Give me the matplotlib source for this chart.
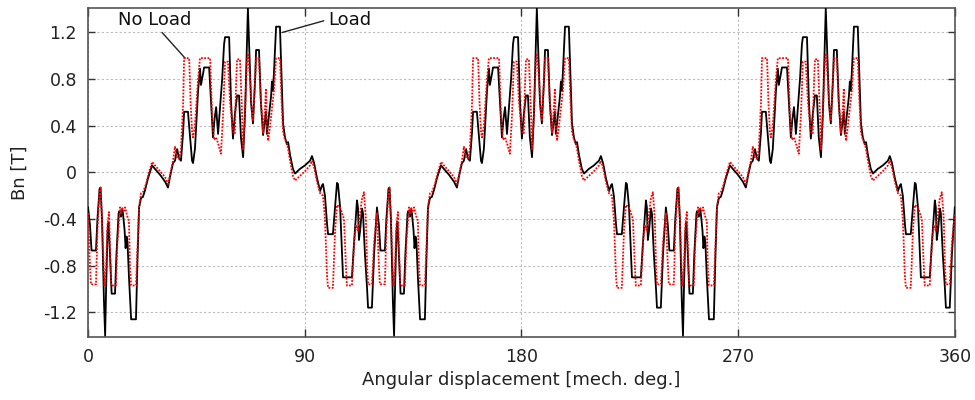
import matplotlib
matplotlib.use("Agg")
import matplotlib.pyplot as plt
import numpy as np

# one 120 deg period (the waveform repeats 3 times over 360 deg)
period = 120
n_periods = 3

# Load (black solid)
ang_load = [0.0, 0.8, 1.45, 3.3, 3.9, 4.8, 5.2, 5.8, 6.6, 7.1, 7.5, 8.1, 8.5, 9.1, 9.8,
            11.2, 11.8, 12.7, 13.1, 13.7, 14.1, 14.5, 15.2, 15.6, 16.0, 16.4, 17.0, 17.9,
            19.9, 20.6, 21.2, 22.0, 22.8, 23.7, 24.9, 26.6, 27.8, 29.9, 32.0, 33.2, 34.1,
            35.3, 36.1, 37.0, 37.8, 38.6, 39.5, 39.9, 41.5, 42.4, 43.2, 43.6, 44.4, 45.7,
            46.5, 46.9, 47.8, 48.2, 50.3, 51.1, 51.9, 52.5, 53.2, 54.0, 55.7, 56.5, 56.9,
            58.6, 59.4, 60.2, 61.0, 61.9, 62.7, 63.5, 64.4, 65.2, 66.0, 66.4, 66.9, 67.7,
            68.5, 69.4, 69.8, 71.0, 71.8, 72.7, 73.5, 73.9, 74.3, 75.2, 76.0, 76.4, 76.8,
            77.2, 78.1, 79.7, 80.4, 81.0, 81.8, 82.6, 83.1, 83.9, 85.1, 86.0, 88.0, 90.1,
            92.2, 93.0, 93.9, 95.1, 96.4, 97.2, 97.6, 98.4, 99.3, 99.7, 101.7, 102.6, 103.4,
            103.8, 104.7, 105.5, 105.9, 109.6, 110.5, 111.7, 112.1, 112.5, 113.0, 113.8,
            114.2, 115.0, 115.9, 116.3, 117.9, 118.8]
bn_load = [-0.30, -0.45, -0.67, -0.67, -0.40, -0.14, -0.13, -0.40, -1.10, -1.40, -1.00,
           -0.50, -0.43, -0.70, -1.04, -1.04, -0.70, -0.35, -0.33, -0.38, -0.32, -0.35,
           -0.50, -0.65, -0.55, -0.60, -0.90, -1.26, -1.26, -0.70, -0.30, -0.22, -0.21,
           -0.15, -0.05, 0.06, 0.03, -0.02, -0.08, -0.13, -0.03, 0.08, 0.10, 0.20, 0.12,
           0.10, 0.35, 0.52, 0.52, 0.30, 0.10, 0.08, 0.20, 0.70, 0.89, 0.75, 0.85, 0.90,
           0.90, 0.60, 0.30, 0.45, 0.56, 0.33, 0.80, 1.10, 1.16, 1.16, 0.60, 0.29, 0.50,
           0.66, 0.66, 0.30, 0.13, 0.50, 1.10, 1.41, 1.10, 0.60, 0.42, 0.80, 1.05, 1.05,
           0.60, 0.32, 0.45, 0.52, 0.33, 0.50, 0.65, 0.78, 0.70, 0.85, 1.25, 1.25, 0.80,
           0.42, 0.30, 0.24, 0.26, 0.15, 0.03, -0.01, 0.03, 0.06, 0.10, 0.14, 0.08, -0.05,
           -0.16, -0.11, -0.10, -0.20, -0.45, -0.53, -0.53, -0.30, -0.09, -0.10, -0.30,
           -0.70, -0.90, -0.90, -0.60, -0.24, -0.30, -0.58, -0.50, -0.31, -0.35, -0.70,
           -1.00, -1.16, -1.16, -0.70]

# No Load (red dotted)
ang_noload = [0.0, 0.6, 1.2, 3.3, 3.9, 4.8, 5.2, 5.8, 6.8, 7.5, 8.1, 8.7, 9.1, 9.6, 11.6,
              12.2, 13.3, 13.7, 14.1, 14.9, 15.4, 16.2, 17.0, 17.4, 17.9, 19.9, 20.6, 21.2,
              22.0, 22.8, 24.1, 25.3, 26.6, 27.8, 29.9, 32.0, 33.2, 34.1, 35.3, 36.1, 37.0,
              37.8, 38.6, 39.5, 39.9, 42.0, 42.6, 43.2, 43.6, 44.4, 45.7, 46.5, 48.6, 50.7,
              51.5, 52.3, 53.2, 54.0, 55.2, 56.1, 56.9, 58.1, 59.0, 60.2, 61.0, 61.4, 61.9,
              63.1, 64.0, 64.4, 65.2, 66.0, 66.4, 67.3, 68.1, 68.5, 69.4, 69.8, 71.0, 71.8,
              72.7, 73.5, 73.9, 74.3, 74.8, 75.6, 76.4, 77.2, 78.1, 79.7, 80.4, 81.0, 81.8,
              82.6, 83.1, 83.9, 85.1, 86.0, 88.0, 90.1, 92.2, 93.0, 93.9, 95.1, 96.4, 97.6,
              98.4, 99.3, 99.7, 101.7, 102.6, 103.4, 104.7, 105.5, 106.3, 107.1, 107.5,
              109.6, 110.5, 111.3, 112.1, 113.0, 113.8, 114.6, 115.4, 115.9, 116.3, 117.9,
              118.8]
bn_noload = [-0.35, -0.70, -0.96, -0.96, -0.50, -0.15, -0.13, -0.40, -0.97, -0.80, -0.45,
             -0.34, -0.60, -0.97, -0.97, -0.60, -0.30, -0.35, -0.30, -0.33, -0.30, -0.37,
             -0.42, -0.80, -0.97, -0.97, -0.60, -0.30, -0.18, -0.17, -0.10, 0.00, 0.09,
             0.06, 0.01, -0.04, -0.10, -0.02, 0.10, 0.22, 0.12, 0.12, 0.20, 0.60, 0.98,
             0.98, 0.60, 0.35, 0.30, 0.40, 0.80, 0.98, 0.98, 0.98, 0.50, 0.28, 0.30, 0.25,
             0.16, 0.50, 0.95, 0.95, 0.60, 0.35, 0.33, 0.70, 0.97, 0.97, 0.50, 0.20, 0.50,
             0.95, 1.02, 0.80, 0.50, 0.44, 0.80, 0.98, 0.98, 0.60, 0.34, 0.55, 0.72, 0.40,
             0.27, 0.40, 0.55, 0.70, 0.98, 0.98, 0.60, 0.35, 0.28, 0.25, 0.20, 0.10, -0.03,
             -0.07, -0.03, 0.01, 0.06, 0.10, 0.04, -0.08, -0.18, -0.20, -0.40, -0.90, -0.99,
             -0.99, -0.50, -0.28, -0.30, -0.35, -0.40, -0.80, -0.97, -0.97, -0.60, -0.45,
             -0.50, -0.35, -0.22, -0.17, -0.40, -0.80, -0.96, -0.96, -0.60]

yticks = [-1.2, -0.8, -0.4, 0, 0.4, 0.8, 1.2]
ytick_labels = ["-1.2", "-0.8", "-0.4", "0", "0.4", "0.8", "1.2"]
xticks = [0, 90, 180, 270, 360]


def repeat(ang, val):
    a = np.concatenate([np.array(ang) + k * period for k in range(n_periods)] + [[n_periods * period]])
    v = np.concatenate([np.array(val)] * n_periods + [[val[0]]])
    return a, v


x_load, y_load = repeat(ang_load, bn_load)
x_nl, y_nl = repeat(ang_noload, bn_noload)

fig = plt.figure(figsize=(9.75, 4.0), dpi=100)
ax = fig.add_axes([0.0903, 0.158, 0.889, 0.822])

ax.plot(x_load, y_load, color="black", lw=1.3, zorder=3)
ax.plot(x_nl, y_nl, color="red", lw=1.3, ls=(0, (1, 0.8)), zorder=4)

ax.set_xlim(0, 360)
ax.set_ylim(-1.41, 1.41)
ax.set_xticks(xticks)
ax.set_xticklabels([str(t) for t in xticks])
ax.set_yticks(yticks)
ax.set_yticklabels(ytick_labels)
ax.tick_params(direction="in", top=True, right=True, length=6, width=1,
               labelsize=12.5, colors="#333333", labelcolor="#222222", pad=8)
ax.tick_params(axis="y", length=5)
for s in ax.spines.values():
    s.set_color("#555555")
    s.set_linewidth(1.2)

ax.grid(axis="y", color="#bbbbbb", ls=(0, (2, 2)), lw=0.8)
ax.grid(axis="x", color="#bbbbbb", ls=(0, (2, 2)), lw=0.8)

ax.set_xlabel("Angular displacement [mech. deg.]", fontsize=13, color="#222222", labelpad=4)
ax.set_ylabel("Bn [T]", fontsize=13, color="#222222", labelpad=10)

ax.annotate("No Load", xy=(40.3, 0.98), xytext=(27.8, 1.31), fontsize=13,
            ha="center", va="center", color="#111111",
            arrowprops=dict(arrowstyle="-", color="#222222", lw=1, relpos=(0.55, 0.0),
                            shrinkA=1, shrinkB=0))
ax.annotate("Load", xy=(80.6, 1.20), xytext=(99.6, 1.31), fontsize=13,
            ha="left", va="center", color="#111111",
            arrowprops=dict(arrowstyle="-", color="#222222", lw=1, relpos=(0.0, 0.5),
                            shrinkA=1, shrinkB=0))

fig.savefig("out.png", dpi=100)
